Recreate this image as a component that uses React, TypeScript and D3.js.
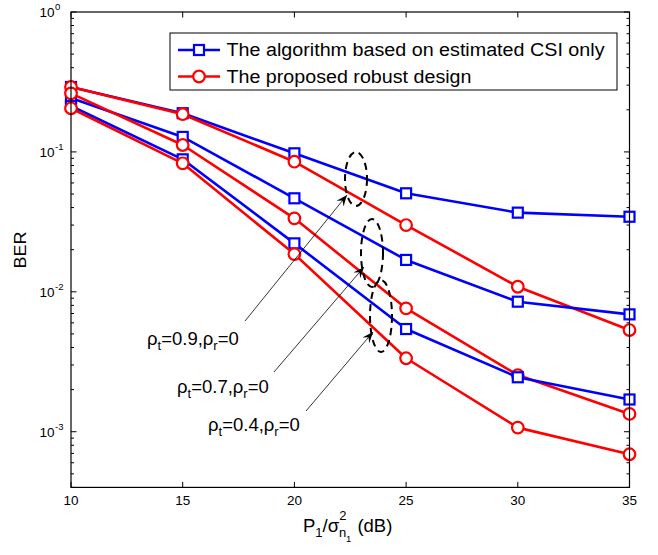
import React from "react";
import * as d3 from "d3";

const snr = [10, 15, 20, 25, 30, 35];
const blue09 = [0.291, 0.189, 0.0977, 0.0506, 0.0368, 0.0344];
const red09 = [0.291, 0.186, 0.0851, 0.03, 0.01087, 0.00533];
const blue07 = [0.243, 0.128, 0.0466, 0.0169, 0.0085, 0.0069];
const red07 = [0.262, 0.112, 0.0335, 0.00762, 0.00254, 0.00134];
const blue04 = [0.213, 0.0885, 0.0222, 0.00542, 0.00245, 0.0017];
const red04 = [0.205, 0.0829, 0.0186, 0.00335, 0.00107, 0.00069];
const xTicks = [10, 15, 20, 25, 30, 35];
const yDecades = [0, -1, -2, -3];
const legendLabels = ["The algorithm based on estimated CSI only", "The proposed robust design"];
const annotations = [
  { t: "0.9", r: "0" },
  { t: "0.7", r: "0" },
  { t: "0.4", r: "0" },
];

const W = 658, H = 555;
const L = 71, R = 629.5, T = 12, B = 487.4;
const BLUE = "#0000ff", RED = "#ff0000";

export default function App() {
  const x = d3.scaleLinear().domain([10, 35]).range([L, R]);
  const y = d3.scaleLog().domain([4e-4, 1]).range([B, T]);
  const line = d3.line<number>().x((_, i) => x(snr[i])).y((d) => y(d));

  const series = [
    { v: blue09, c: BLUE, m: "s" },
    { v: red09, c: RED, m: "o" },
    { v: blue07, c: BLUE, m: "s" },
    { v: red07, c: RED, m: "o" },
    { v: blue04, c: BLUE, m: "s" },
    { v: red04, c: RED, m: "o" },
  ];

  const minor: number[] = [];
  for (let e = -4; e < 0; e++) for (let k = 2; k <= 9; k++) {
    const v = k * Math.pow(10, e);
    if (v >= 4e-4 && v < 1) minor.push(v);
  }

  const marker = (m: string, c: string, cx: number, cy: number, key: any) =>
    m === "s" ? (
      <rect key={key} x={cx - 5} y={cy - 5} width={10} height={10} fill="white" stroke={c} strokeWidth={2.2} />
    ) : (
      <circle key={key} cx={cx} cy={cy} r={5.8} fill="white" stroke={c} strokeWidth={2.2} />
    );

  const font = "'Liberation Sans', Arial, Helvetica, sans-serif";

  const ellipses = [
    { cx: 356, cy: 179, rx: 11, ry: 27 },
    { cx: 372, cy: 253, rx: 11, ry: 34 },
    { cx: 381, cy: 316, rx: 11, ry: 36 },
  ];
  const arrows = [
    { x1: 245, y1: 321, x2: 347, y2: 195 },
    { x1: 274, y1: 372, x2: 364, y2: 267 },
    { x1: 306, y1: 411, x2: 373, y2: 332 },
  ];
  const labelPos = [
    { x: 147, y: 345 },
    { x: 177, y: 393 },
    { x: 208, y: 431 },
  ];

  const arrowHead = (a: any, i: number) => {
    const ang = Math.atan2(a.y2 - a.y1, a.x2 - a.x1);
    const len = 11, wid = 4.5, back = 7;
    const px = (dx: number, dy: number) => [a.x2 + dx * Math.cos(ang) - dy * Math.sin(ang), a.y2 + dx * Math.sin(ang) + dy * Math.cos(ang)];
    const p1 = px(-len, -wid), p2 = px(-back, 0), p3 = px(-len, wid);
    return <path key={"ah" + i} d={`M${a.x2},${a.y2}L${p1[0]},${p1[1]}L${p2[0]},${p2[1]}L${p3[0]},${p3[1]}Z`} fill="black" />;
  };

  const legendWidths = [378, 245];

  return (
    <svg width={W} height={H} style={{ position: "absolute", left: 0, top: 0, background: "white" }} fontFamily={font}>
      <rect x={0} y={0} width={W} height={H} fill="white" />
      {xTicks.map((t) => (
        <g key={"xt" + t}>
          <line x1={x(t)} x2={x(t)} y1={B} y2={B - 5.5} stroke="black" strokeWidth={1} />
          <line x1={x(t)} x2={x(t)} y1={T} y2={T + 5.5} stroke="black" strokeWidth={1} />
          <text x={x(t)} y={505} fontSize={13.5} textAnchor="middle">{t}</text>
        </g>
      ))}
      {yDecades.map((e) => {
        const yy = y(Math.pow(10, e));
        return (
          <g key={"yd" + e}>
            <line x1={L} x2={L + 5.5} y1={yy} y2={yy} stroke="black" />
            <line x1={R} x2={R - 5.5} y1={yy} y2={yy} stroke="black" />
            <text x={54.5} y={yy + 5} fontSize={13.5} textAnchor="end">10</text>
            <text x={55} y={yy - 2} fontSize={9.5} textAnchor="start">{e}</text>
          </g>
        );
      })}
      {minor.map((v, i) => (
        <g key={"mn" + i}>
          <line x1={L} x2={L + 3} y1={y(v)} y2={y(v)} stroke="black" />
          <line x1={R} x2={R - 3} y1={y(v)} y2={y(v)} stroke="black" />
        </g>
      ))}
      {series.map((s, si) => (
        <g key={"s" + si}>
          <path d={line(s.v) || ""} fill="none" stroke={s.c} strokeWidth={2.6} strokeLinejoin="round" />
          {s.v.map((d, i) => marker(s.m, s.c, x(snr[i]), y(d), i))}
        </g>
      ))}
      <rect x={L} y={T} width={R - L} height={B - T} fill="none" stroke="black" strokeWidth={1.2} />
      {ellipses.map((e, i) => (
        <ellipse key={"el" + i} cx={e.cx} cy={e.cy} rx={e.rx} ry={e.ry} fill="none" stroke="black" strokeWidth={2} strokeDasharray="7,5" />
      ))}
      {arrows.map((a, i) => (
        <g key={"ar" + i}>
          <line x1={a.x1} y1={a.y1} x2={a.x2} y2={a.y2} stroke="black" strokeWidth={0.8} />
          {arrowHead(a, i)}
        </g>
      ))}
      {annotations.map((a, i) => (
        <text key={"an" + i} x={labelPos[i].x} y={labelPos[i].y} fontSize={18.5}>
          <tspan>ρ</tspan>
          <tspan fontSize={13} dy={5}>t</tspan>
          <tspan dy={-5}>={a.t},ρ</tspan>
          <tspan fontSize={13} dy={5}>r</tspan>
          <tspan dy={-5}>={a.r}</tspan>
        </text>
      ))}
      <rect x={170} y={33} width={447} height={57} fill="white" stroke="black" strokeWidth={1} />
      {legendLabels.map((lb, i) => {
        const ly = 50 + i * 26.5;
        return (
          <g key={"lg" + i}>
            <line x1={178} x2={220} y1={ly} y2={ly} stroke={i === 0 ? BLUE : RED} strokeWidth={2.6} />
            {marker(i === 0 ? "s" : "o", i === 0 ? BLUE : RED, 199, ly, "m")}
            <text x={226.5} y={ly + 6.3} fontSize={18} textLength={legendWidths[i]} lengthAdjust="spacingAndGlyphs">{lb}</text>
          </g>
        );
      })}
      <text transform="translate(26,250) rotate(-90)" fontSize={16.5} textAnchor="middle" textLength={37} lengthAdjust="spacingAndGlyphs">BER</text>
      <text x={303} y={532} fontSize={18.5}>
        <tspan>P</tspan>
        <tspan fontSize={13} dy={5}>1</tspan>
        <tspan dy={-5}>/σ</tspan>
        <tspan fontSize={13} dy={-12}>2</tspan>
        <tspan fontSize={13} dx={-7.5} dy={17}>n</tspan>
        <tspan fontSize={9.5} dy={5}>1</tspan>
        <tspan dx={6} dy={-10}>(dB)</tspan>
      </text>
    </svg>
  );
}
